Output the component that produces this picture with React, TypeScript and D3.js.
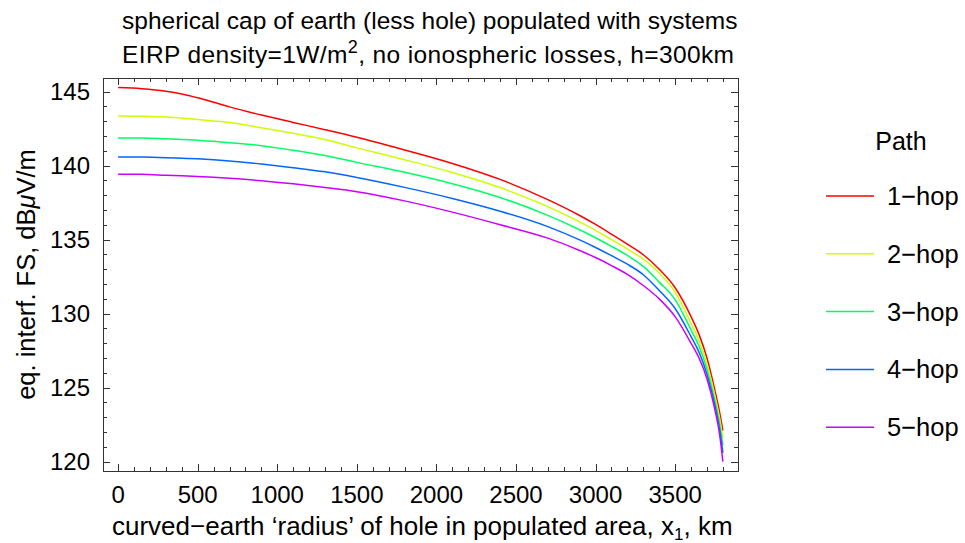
import React from "react";
import * as d3 from "d3";

const xValues = [0, 150, 300, 400, 500, 600, 700, 900, 1100, 1300, 1500, 1800, 2100, 2400, 2700, 2900, 3000, 3100, 3200, 3300, 3400, 3500, 3600, 3650, 3700, 3750, 3780, 3800];
const hop1 = [145.27, 145.2, 145.03, 144.84, 144.58, 144.28, 143.97, 143.42, 142.92, 142.43, 141.92, 141.06, 140.15, 139.07, 137.7, 136.63, 136.03, 135.37, 134.69, 133.98, 133.0, 131.75, 129.8, 128.6, 127.0, 124.8, 123.3, 122.1];
const hop2 = [143.36, 143.34, 143.29, 143.22, 143.12, 143.02, 142.91, 142.56, 142.18, 141.76, 141.2, 140.4, 139.54, 138.52, 137.23, 136.2, 135.63, 135.0, 134.37, 133.68, 132.75, 131.45, 129.35, 128.2, 126.6, 124.45, 122.9, 121.6];
const hop3 = [141.87, 141.86, 141.81, 141.77, 141.72, 141.64, 141.55, 141.35, 141.04, 140.68, 140.22, 139.55, 138.78, 137.85, 136.64, 135.67, 135.13, 134.55, 133.93, 133.19, 132.13, 130.95, 128.9, 127.8, 126.25, 124.1, 122.5, 121.1];
const hop4 = [140.59, 140.58, 140.54, 140.5, 140.46, 140.4, 140.32, 140.11, 139.86, 139.58, 139.2, 138.53, 137.78, 136.92, 135.88, 134.98, 134.47, 133.92, 133.34, 132.63, 131.57, 130.35, 128.45, 127.4, 125.9, 123.8, 122.15, 120.6];
const hop5 = [139.42, 139.41, 139.35, 139.31, 139.27, 139.21, 139.14, 138.98, 138.77, 138.52, 138.24, 137.62, 136.86, 136.01, 135.1, 134.27, 133.79, 133.25, 132.65, 131.9, 131.0, 129.8, 128.0, 127.0, 125.6, 123.5, 121.8, 120.0];

const seriesNames = ["1−hop", "2−hop", "3−hop", "4−hop", "5−hop"];
const seriesValues = [hop1, hop2, hop3, hop4, hop5];
const seriesColors = ["#ff0000", "#ccff00", "#00ff66", "#0066ff", "#cc00ff"];

const xTickLabels = [0, 500, 1000, 1500, 2000, 2500, 3000, 3500];
const yTickLabels = [120, 125, 130, 135, 140, 145];

const FONT = "'Liberation Sans', Arial, sans-serif";

export default function App() {
  const W = 965, H = 543;
  const left = 103, right = 738, top = 78, bottom = 471;
  const x = d3.scaleLinear().domain([-95, 3895]).range([left, right]);
  const y = d3.scaleLinear().domain([119.37, 145.92]).range([bottom, top]);

  const xMinor = d3.range(0, 3801, 100);
  const yMinor = d3.range(120, 146, 1);

  const line = d3
    .line<[number, number]>()
    .x((d) => x(d[0]))
    .y((d) => y(d[1]))
    .curve(d3.curveMonotoneX);

  const tickColor = "#333";

  return (
    <svg width={W} height={H} style={{ position: "absolute", left: 0, top: 0, background: "#fff" }} fontFamily={FONT}>
      <rect x={0} y={0} width={W} height={H} fill="#fff" />
      <defs>
        <clipPath id="plotclip">
          <rect x={left} y={top} width={right - left} height={bottom - top} />
        </clipPath>
      </defs>

      {/* title */}
      <text x={122} y={29} fontSize={24.5} fill="#000">spherical cap of earth (less hole) populated with systems</text>
      <text x={122} y={63} fontSize={24.5} fill="#000" textLength={612} lengthAdjust="spacing">
        EIRP density=1W/m<tspan dy={-10} fontSize={18}>2</tspan>
        <tspan dy={10}>, no ionospheric losses, h=300km</tspan>
      </text>

      {/* curves */}
      <g clipPath="url(#plotclip)">
        {seriesValues.map((vals, i) => (
          <path
            key={i}
            d={line(vals.map((v, j) => [xValues[j], v]) as [number, number][]) || ""}
            fill="none"
            stroke={seriesColors[i]}
            strokeWidth={1.5}
          />
        ))}
      </g>

      {/* ticks */}
      <g stroke={tickColor} strokeWidth={1}>
        {xMinor.map((v) => {
          const major = v % 500 === 0;
          const len = major ? 7 : 4;
          const px = Math.round(x(v)) + 0.5;
          return (
            <g key={"x" + v}>
              <line x1={px} x2={px} y1={bottom} y2={bottom - len} />
              <line x1={px} x2={px} y1={top} y2={top + len} />
            </g>
          );
        })}
        {yMinor.map((v) => {
          const major = v % 5 === 0;
          const len = major ? 7 : 4;
          const py = Math.round(y(v)) + 0.5;
          return (
            <g key={"y" + v}>
              <line x1={left} x2={left + len} y1={py} y2={py} />
              <line x1={right} x2={right - len} y1={py} y2={py} />
            </g>
          );
        })}
      </g>

      {/* frame */}
      <rect x={left + 0.5} y={top + 0.5} width={right - left} height={bottom - top} fill="none" stroke={tickColor} strokeWidth={1} />

      {/* tick labels */}
      {yTickLabels.map((v) => (
        <text key={"yl" + v} x={90} y={y(v) + 8.5} fontSize={24} textAnchor="end" fill="#000">
          {v}
        </text>
      ))}
      {xTickLabels.map((v) => (
        <text key={"xl" + v} x={x(v)} y={503} fontSize={24} textAnchor="middle" fill="#000">
          {v}
        </text>
      ))}

      {/* axis labels */}
      <text x={112} y={535} fontSize={26} fill="#000">
        curved−earth ‘radius’ of hole in populated area, x<tspan dy={5} fontSize={17}>1</tspan>
        <tspan dy={-5}>, km</tspan>
      </text>
      <text transform={`translate(35, ${(top + bottom) / 2}) rotate(-90)`} fontSize={25.5} textAnchor="middle" fill="#000">
        eq. interf. FS, dB<tspan fontStyle="italic">μ</tspan>V/m
      </text>

      {/* legend */}
      <text x={901} y={150} fontSize={25} textAnchor="middle" fill="#000">Path</text>
      {seriesNames.map((name, i) => {
        const ly = 196 + i * 57.8;
        return (
          <g key={name}>
            <line x1={826} x2={874} y1={ly} y2={ly} stroke={seriesColors[i]} strokeWidth={1.5} />
            <text x={887} y={ly + 9} fontSize={25.5} fill="#000">{name}</text>
          </g>
        );
      })}
    </svg>
  );
}
